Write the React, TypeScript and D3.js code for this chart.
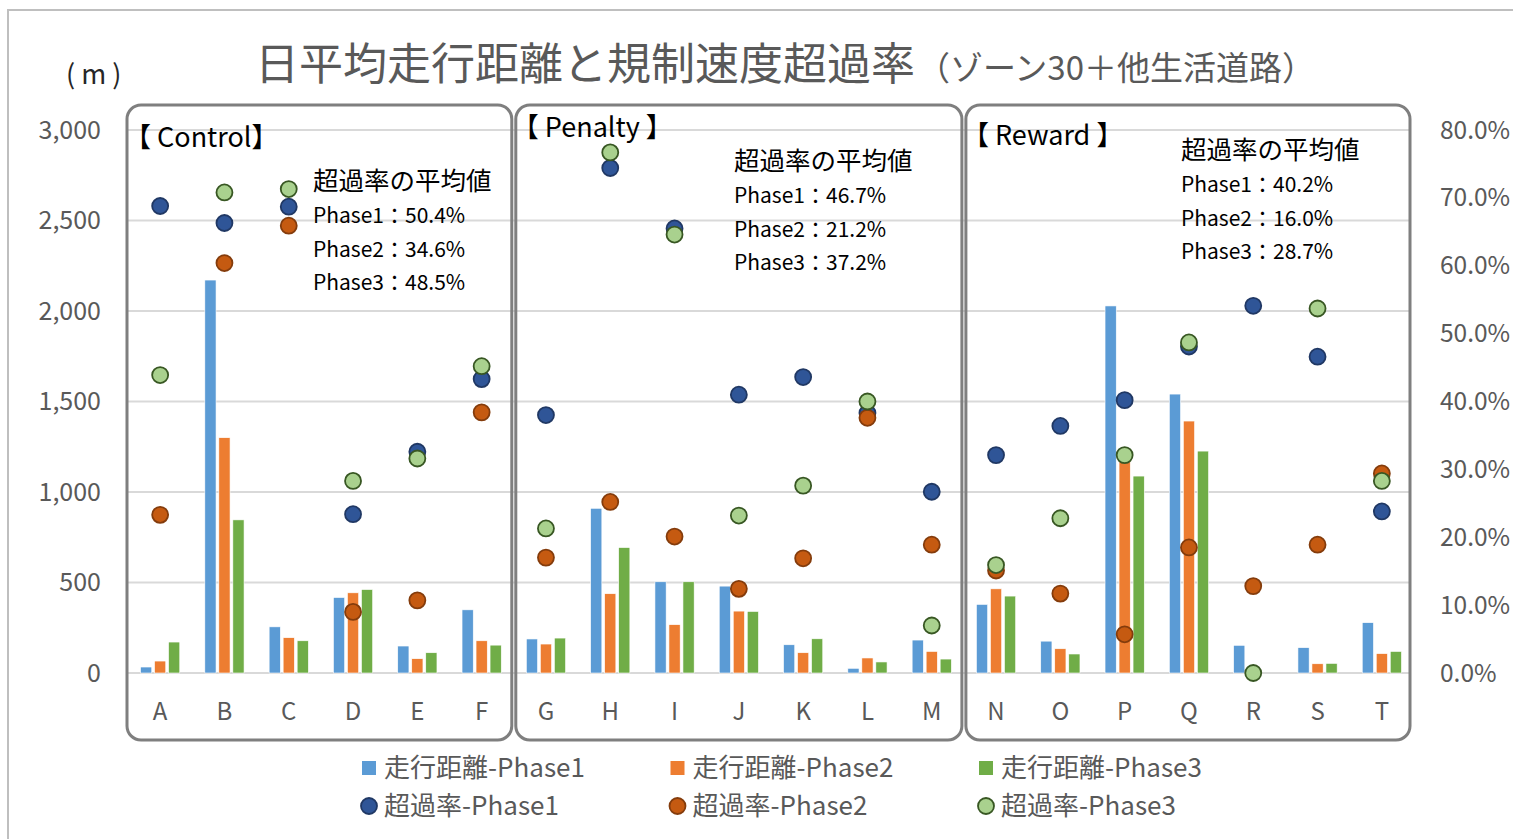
import React from 'react';
import * as d3 from 'd3';

const categories = ['A', 'B', 'C', 'D', 'E', 'F', 'G', 'H', 'I', 'J', 'K', 'L', 'M', 'N', 'O', 'P', 'Q', 'R', 'S', 'T'];

// 走行距離 (m)
const dist1 = [33, 2171, 255, 417, 149, 349, 188, 910, 504, 480, 156, 26, 182, 379, 176, 2028, 1541, 153, 140, 278];
const dist2 = [66, 1300, 195, 443, 79, 178, 160, 438, 267, 342, 112, 83, 119, 465, 134, 1167, 1392, 0, 51, 107];
const dist3 = [171, 846, 178, 461, 112, 154, 193, 693, 504, 340, 189, 61, 77, 425, 105, 1088, 1226, 0, 53, 119];

// 超過率 (%)
const rate1 = [68.8, 66.3, 68.7, 23.4, 32.6, 43.3, 38.0, 74.4, 65.5, 41.0, 43.6, 38.3, 26.7, 32.1, 36.4, 40.2, 48.1, 54.1, 46.6, 23.8];
const rate2 = [23.3, 60.4, 65.9, 9.0, 10.7, 38.4, 17.0, 25.2, 20.1, 12.4, 16.9, 37.6, 18.9, 15.1, 11.7, 5.7, 18.5, 12.8, 18.9, 29.4];
const rate3 = [43.9, 70.8, 71.3, 28.3, 31.6, 45.2, 21.3, 76.7, 64.6, 23.2, 27.6, 40.0, 7.0, 15.9, 22.8, 32.1, 48.7, 0.0, 53.7, 28.3];

const leftTicks = [0, 500, 1000, 1500, 2000, 2500, 3000];
const rightTicks = [0, 10, 20, 30, 40, 50, 60, 70, 80];

const groups = [
  { name: '【 Control】', first: 'A', last: 'F', avg: ['50.4%', '34.6%', '48.5%'] },
  { name: '【 Penalty 】', first: 'G', last: 'M', avg: ['46.7%', '21.2%', '37.2%'] },
  { name: '【 Reward 】', first: 'N', last: 'T', avg: ['40.2%', '16.0%', '28.7%'] },
];

const barSeries = [
  { name: '走行距離-Phase1', values: dist1, color: '#5b9bd5' },
  { name: '走行距離-Phase2', values: dist2, color: '#ed7d31' },
  { name: '走行距離-Phase3', values: dist3, color: '#70ad47' },
];
const dotSeries = [
  { name: '超過率-Phase1', values: rate1, fill: '#2f5597', stroke: '#203864' },
  { name: '超過率-Phase2', values: rate2, fill: '#c55a11', stroke: '#843c0c' },
  { name: '超過率-Phase3', values: rate3, fill: '#a9d18e', stroke: '#385723' },
];

const FONT = '"Noto Sans CJK JP", "Noto Sans", sans-serif';
const GREY = '#595959';

export default function App() {
  const W = 1513;
  const H = 839;
  const plot = { left: 128, right: 1414, top: 130, bottom: 673 };

  const x0 = d3.scaleBand<string>().domain(categories).range([plot.left, plot.right]).paddingInner(0.39).paddingOuter(0.195);
  const x1 = d3.scaleBand<number>().domain([0, 1, 2]).range([0, x0.bandwidth()]).paddingInner(0.2);
  const yL = d3.scaleLinear().domain([0, 3000]).range([plot.bottom, plot.top]);
  const yR = d3.scaleLinear().domain([0, 80]).range([plot.bottom, plot.top]);
  const fmtL = d3.format(',');
  const fmtR = (v: number) => d3.format('.1f')(v) + '%';
  const cx = (c: string) => (x0(c) as number) + x0.bandwidth() / 2;
  const step = x0.step();

  return (
    <svg width={W} height={H} style={{ position: 'absolute', left: 0, top: 0, fontFamily: FONT }}>
      <rect x={0} y={0} width={W} height={H} fill="#fff" />
      <rect x={8} y={10} width={W + 10} height={H + 10} fill="#fff" stroke="#bfbfbf" strokeWidth={2} />

      {/* title */}
      <text x={255} y={80} fontSize={44} fill={GREY}>
        日平均走行距離と規制速度超過率
        <tspan fontSize={33} dx={2}>（ゾーン30＋他生活道路）</tspan>
      </text>
      <text x={66} y={84} fontSize={27} fill="#262626">( m )</text>

      {/* gridlines */}
      {leftTicks.map(t => (
        <line key={t} x1={plot.left} x2={plot.right - 4} y1={yL(t)} y2={yL(t)} stroke="#d9d9d9" strokeWidth={2} />
      ))}

      {/* axes labels */}
      {leftTicks.map(t => (
        <text key={t} x={101} y={yL(t)} dy="0.35em" textAnchor="end" fontSize={25} fill={GREY}>{fmtL(t)}</text>
      ))}
      {rightTicks.map(t => (
        <text key={t} x={1440} y={yR(t)} dy="0.35em" textAnchor="start" fontSize={24.5} fill={GREY}>{fmtR(t)}</text>
      ))}
      {categories.map(c => (
        <text key={c} x={cx(c)} y={712} dy="0.35em" textAnchor="middle" fontSize={24} fill={GREY}>{c}</text>
      ))}

      {/* bars */}
      {barSeries.map((s, si) => (
        <g key={s.name}>
          {s.values.map((v, i) => (
            <rect key={i} x={(x0(categories[i]) as number) + (x1(si) as number)} y={yL(v)}
              width={x1.bandwidth()} height={yL(0) - yL(v)} fill={s.color} stroke="#fff" strokeWidth={0.6} />
          ))}
        </g>
      ))}

      {/* group boxes */}
      {groups.map((g, gi) => {
        const left = cx(g.first) - step / 2 + (gi === 0 ? -1 : 2);
        const right = cx(g.last) + step / 2 - (gi === 2 ? 4 : 2);
        return (
          <rect key={g.name} x={left} y={105} width={right - left} height={635} rx={14} ry={14}
            fill="none" stroke="#7f7f7f" strokeWidth={3} />
        );
      })}

      {/* dots */}
      {dotSeries.map(s => (
        <g key={s.name}>
          {s.values.map((v, i) => (
            <circle key={i} cx={cx(categories[i])} cy={yR(v)} r={8} fill={s.fill} stroke={s.stroke} strokeWidth={1.8} />
          ))}
        </g>
      ))}

      {/* group annotations */}
      {groups.map((g, gi) => {
        const left = cx(g.first) - step / 2;
        const pos = [
          { ly: 138, ax: 313, ay: 181 },
          { ly: 128, ax: 734, ay: 161 },
          { ly: 136, ax: 1181, ay: 150 },
        ][gi];
        return (
          <g key={g.name}>
            <text x={left + (gi === 0 ? -4 : -2)} y={pos.ly} dy="0.35em" fontSize={27} fill="#000">{g.name}</text>
            <text x={pos.ax} y={pos.ay} dy="0.35em" fontSize={25.5} fill="#000">超過率の平均値</text>
            {g.avg.map((a, k) => (
              <text key={k} x={pos.ax} y={pos.ay + 35 + k * 33.5} dy="0.35em" fontSize={21} fill="#000">
                {`Phase${k + 1}：${a}`}
              </text>
            ))}
          </g>
        );
      })}

      {/* legend */}
      {barSeries.map((s, i) => (
        <g key={s.name} transform={`translate(${362 + i * 308.5},768)`}>
          <rect x={0} y={-7} width={14} height={14} fill={s.color} />
          <text x={22} y={0} dy="0.35em" fontSize={26} fill={GREY}>{s.name}</text>
        </g>
      ))}
      {dotSeries.map((s, i) => (
        <g key={s.name} transform={`translate(${362 + i * 308.5},806)`}>
          <circle cx={7} cy={0} r={8} fill={s.fill} stroke={s.stroke} strokeWidth={1.8} />
          <text x={22} y={0} dy="0.35em" fontSize={26} fill={GREY}>{s.name}</text>
        </g>
      ))}
    </svg>
  );
}
